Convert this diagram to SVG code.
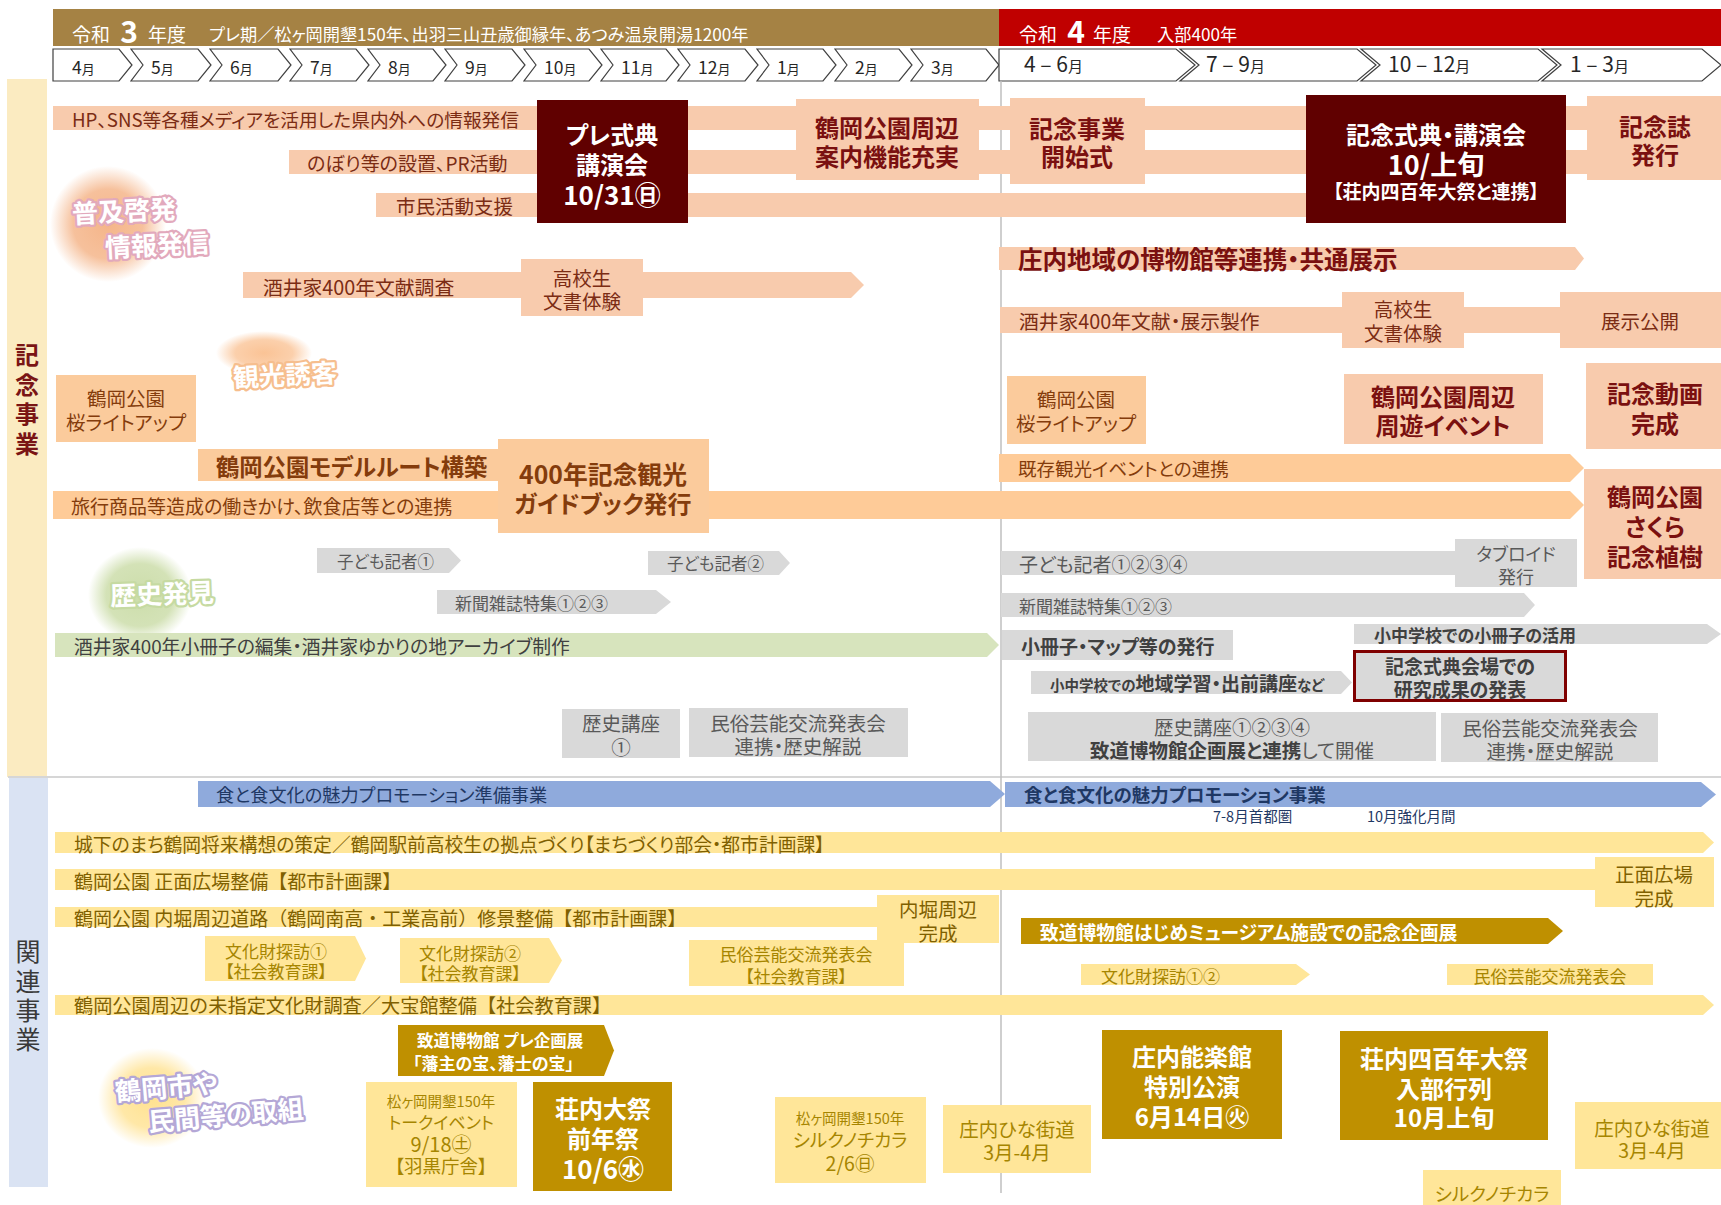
<svg xmlns="http://www.w3.org/2000/svg" width="1721" height="1205" viewBox="0 0 1721 1205">
<defs>
<style>
text{font-family:"Noto Sans CJK JP","Noto Sans",sans-serif;font-feature-settings:"palt";dominant-baseline:central}
.b{font-weight:bold}.m{text-anchor:middle}.np{font-feature-settings:normal}
.sal{fill:#F8CBAD}.pch{fill:#FBCB9C}.pbar{fill:#FECB98}.mar{fill:#600000}.gry{fill:#D9D9D9}.grn{fill:#D7E4BD}.blu{fill:#8FAADC}.yel{fill:#FFE699}.gld{fill:#BF9000}
.chev{fill:#fff;stroke:#404040;stroke-width:1.2}
.mo{dominant-baseline:auto;fill:#262626}
.n{font-size:17.5px}.n4{font-size:21px}.u{font-size:13px}
.hd{fill:#fff}
.tr{fill:#7B2C14}
.tk{fill:#7A1010;font-weight:bold}
.tw{fill:#fff;font-weight:bold}
.to{fill:#843C0C}
.tg{fill:#595959}
.td{fill:#404040;font-weight:bold}
.ty{fill:#7F6000}
.tz{fill:#A68500}
.tn{fill:#1F3864}
.bl{font-size:26px;font-weight:bold;fill:#fff;stroke-width:4.5px;paint-order:stroke;stroke-linejoin:round}
</style>
<radialGradient id="gS"><stop offset="0" stop-color="#F4B183" stop-opacity="0.95"/><stop offset="0.6" stop-color="#F4B183" stop-opacity="0.8"/><stop offset="1" stop-color="#F4B183" stop-opacity="0"/></radialGradient>
<radialGradient id="gO"><stop offset="0" stop-color="#FAC090" stop-opacity="0.95"/><stop offset="0.6" stop-color="#FAC090" stop-opacity="0.75"/><stop offset="1" stop-color="#FAC090" stop-opacity="0"/></radialGradient>
<radialGradient id="gG"><stop offset="0" stop-color="#CCDDAA" stop-opacity="1"/><stop offset="0.65" stop-color="#CCDDAA" stop-opacity="0.85"/><stop offset="1" stop-color="#CCDDAA" stop-opacity="0"/></radialGradient>
<radialGradient id="gY"><stop offset="0" stop-color="#FFE08A" stop-opacity="0.95"/><stop offset="0.6" stop-color="#FFE08A" stop-opacity="0.75"/><stop offset="1" stop-color="#FFE08A" stop-opacity="0"/></radialGradient>
</defs>
<rect width="1721" height="1205" fill="#fff"/>

<g id="header">
<rect x="53" y="9" width="947" height="37" fill="#A58244"/>
<rect x="999" y="9" width="722" height="37" fill="#C00000"/>
<text class="hd" x="72" y="33" font-size="19">令和</text>
<text class="hd b m" x="129" y="30" font-size="30">3</text>
<text class="hd" x="148" y="33" font-size="19">年度</text>
<text class="hd" x="209" y="33" font-size="17.2">プレ期／松ヶ岡開墾150年、出羽三山丑歳御縁年、あつみ温泉開湯1200年</text>
<text class="hd" x="1019" y="33" font-size="19">令和</text>
<text class="hd b m" x="1076" y="30" font-size="30">4</text>
<text class="hd" x="1093" y="33" font-size="19">年度</text>
<text class="hd" x="1157" y="33" font-size="17.2">入部400年</text>
</g>

<g id="months">
<polygon class="chev" points="53,49 119,49 132,65 119,81 53,81"/>
<polygon class="chev" points="131,49 198,49 211,65 198,81 131,81 143,65"/>
<polygon class="chev" points="210,49 278,49 291,65 278,81 210,81 222,65"/>
<polygon class="chev" points="290,49 356,49 369,65 356,81 290,81 302,65"/>
<polygon class="chev" points="368,49 433,49 446,65 433,81 368,81 380,65"/>
<polygon class="chev" points="445,49 512,49 525,65 512,81 445,81 457,65"/>
<polygon class="chev" points="524,49 589,49 602,65 589,81 524,81 536,65"/>
<polygon class="chev" points="601,49 666,49 679,65 666,81 601,81 613,65"/>
<polygon class="chev" points="678,49 745,49 758,65 745,81 678,81 690,65"/>
<polygon class="chev" points="757,49 823,49 836,65 823,81 757,81 769,65"/>
<polygon class="chev" points="835,49 899,49 912,65 899,81 835,81 847,65"/>
<polygon class="chev" points="911,49 986,49 999,65 986,81 911,81 923,65"/>
<polygon class="chev" points="999,49 1176,49 1195,65 1176,81 999,81"/>
<polygon class="chev" points="1180,49 1357,49 1376,65 1357,81 1180,81 1199,65"/>
<polygon class="chev" points="1361,49 1538,49 1557,65 1538,81 1361,81 1380,65"/>
<polygon class="chev" points="1542,49 1702,49 1721,65 1702,81 1542,81 1561,65"/>
<text class="mo" x="72" y="74"><tspan class="n">4</tspan><tspan class="u">月</tspan></text>
<text class="mo" x="151" y="74"><tspan class="n">5</tspan><tspan class="u">月</tspan></text>
<text class="mo" x="230" y="74"><tspan class="n">6</tspan><tspan class="u">月</tspan></text>
<text class="mo" x="310" y="74"><tspan class="n">7</tspan><tspan class="u">月</tspan></text>
<text class="mo" x="388" y="74"><tspan class="n">8</tspan><tspan class="u">月</tspan></text>
<text class="mo" x="465" y="74"><tspan class="n">9</tspan><tspan class="u">月</tspan></text>
<text class="mo" x="544" y="74"><tspan class="n">10</tspan><tspan class="u">月</tspan></text>
<text class="mo" x="621" y="74"><tspan class="n">11</tspan><tspan class="u">月</tspan></text>
<text class="mo" x="698" y="74"><tspan class="n">12</tspan><tspan class="u">月</tspan></text>
<text class="mo" x="777" y="74"><tspan class="n">1</tspan><tspan class="u">月</tspan></text>
<text class="mo" x="855" y="74"><tspan class="n">2</tspan><tspan class="u">月</tspan></text>
<text class="mo" x="931" y="74"><tspan class="n">3</tspan><tspan class="u">月</tspan></text>
<text class="mo" x="1024" y="72"><tspan class="n4">4 – 6</tspan><tspan font-size="15">月</tspan></text>
<text class="mo" x="1206" y="72"><tspan class="n4">7 – 9</tspan><tspan font-size="15">月</tspan></text>
<text class="mo" x="1388" y="72"><tspan class="n4">10 – 12</tspan><tspan font-size="15">月</tspan></text>
<text class="mo" x="1570" y="72"><tspan class="n4">1 – 3</tspan><tspan font-size="15">月</tspan></text>
</g>

<g id="categories">
<rect x="7" y="79" width="40" height="698" fill="#FBEBC1"/>
<rect x="9" y="778" width="39" height="409" fill="#DAE3F3"/>
<text class="b m" x="27" y="353" font-size="24" fill="#7A1515">記</text>
<text class="b m" x="27" y="383" font-size="24" fill="#7A1515">念</text>
<text class="b m" x="27" y="412" font-size="24" fill="#7A1515">事</text>
<text class="b m" x="27" y="442" font-size="24" fill="#7A1515">業</text>
<text class="m" x="28" y="950" font-size="25" fill="#3A3A3A">関</text>
<text class="m" x="28" y="980" font-size="25" fill="#3A3A3A">連</text>
<text class="m" x="28" y="1009" font-size="25" fill="#3A3A3A">事</text>
<text class="m" x="28" y="1038" font-size="25" fill="#3A3A3A">業</text>
</g>

<g id="guides">
<line x1="8" y1="777" x2="1721" y2="777" stroke="#D6D6D6" stroke-width="2"/>
<line x1="1001" y1="81" x2="1001" y2="1193" stroke="#BFBFBF" stroke-width="1.5"/>
</g>

<g id="blobs">
<ellipse cx="108" cy="224" rx="58" ry="58" fill="url(#gS)"/>
<ellipse cx="264" cy="353" rx="48" ry="22" fill="url(#gO)"/>
<ellipse cx="140" cy="595" rx="52" ry="48" fill="url(#gG)"/>
<ellipse cx="152" cy="1098" rx="54" ry="50" fill="url(#gY)"/>
<text class="bl" x="72" y="212" style="stroke:#E2A9BC" transform="rotate(-3 72 212)">普及啓発</text>
<text class="bl" x="105" y="246" style="stroke:#E2A9BC" transform="rotate(-3 105 246)">情報発信</text>
<text class="bl" x="233" y="376" style="stroke:#F6BE8E" transform="rotate(-3 233 376)">観光誘客</text>
<text class="bl" x="110" y="594" style="stroke:#C6DAA2" transform="rotate(-2 110 594)">歴史発見</text>
<text class="bl" x="115" y="1090" style="stroke:#B4A7D6" transform="rotate(-5 115 1090)">鶴岡市や</text>
<text class="bl" x="148" y="1120" style="stroke:#B4A7D6" transform="rotate(-5 148 1120)">民間等の取組</text>
</g>

<g id="promo-rows">
<g id="n-hp"><rect class="sal" x="53" y="106" width="1668" height="24"/><text class="tr" x="72" y="118" font-size="18.7">HP、SNS等各種メディアを活用した県内外への情報発信</text></g>
<g id="n-nobori"><rect class="sal" x="289" y="150" width="1432" height="24"/><text class="tr" x="307" y="162" font-size="19">のぼり等の設置、PR活動</text></g>
<g id="n-shimin"><rect class="sal" x="376" y="193" width="1190" height="24"/><text class="tr" x="396" y="205" font-size="19.5">市民活動支援</text></g>
</g>

<g id="n-pre"><rect class="mar" x="537" y="100" width="151" height="123"/>
<text class="tw m" x="612" y="133" font-size="24">プレ式典</text><text class="tw m" x="612" y="163" font-size="24">講演会</text><text class="tw m" x="612" y="193" font-size="26">10/31㊐</text></g>
<g id="n-annai"><rect class="sal" x="796" y="99" width="183" height="81"/>
<text class="tk m" x="887" y="126" font-size="24">鶴岡公園周辺</text><text class="tk m" x="887" y="155" font-size="24">案内機能充実</text></g>
<g id="n-kaishi"><rect class="sal" x="1010" y="98" width="135" height="86"/>
<text class="tk m" x="1077" y="127" font-size="24">記念事業</text><text class="tk m" x="1077" y="155" font-size="24">開始式</text></g>
<g id="n-shikiten"><rect class="mar" x="1306" y="95" width="260" height="128"/>
<text class="tw m" x="1436" y="133" font-size="24">記念式典・講演会</text><text class="tw m" x="1436" y="163" font-size="27">10/上旬</text><text class="tw m" x="1436" y="190" font-size="19">【荘内四百年大祭と連携】</text></g>
<g id="n-kinenshi"><rect class="sal" x="1587" y="96" width="134" height="84"/>
<text class="tk m" x="1655" y="125" font-size="24">記念誌</text><text class="tk m" x="1655" y="153" font-size="24">発行</text></g>

<g id="n-shonai"><polygon class="sal" points="999,247 1575,247 1584,258.5 1575,270 999,270"/><text class="tk" x="1018" y="258" font-size="24.5">庄内地域の博物館等連携・共通展示</text></g>
<g id="n-bunken"><polygon class="sal" points="243,272 851,272 864,285 851,298 243,298"/><text class="tr" x="263" y="286" font-size="19.8">酒井家400年文献調査</text></g>
<g id="n-koko1"><rect class="sal" x="521" y="259" width="122" height="57"/><text class="tr m" x="582" y="277" font-size="19.5">高校生</text><text class="tr m" x="582" y="300" font-size="19.5">文書体験</text></g>
<g id="n-tenji"><rect class="sal" x="1000" y="307" width="600" height="26"/><text class="tr" x="1019" y="320" font-size="19.8">酒井家400年文献・展示製作</text></g>
<g id="n-koko2"><rect class="sal" x="1342" y="292" width="122" height="56"/><text class="tr m" x="1403" y="308" font-size="19.5">高校生</text><text class="tr m" x="1403" y="332" font-size="19.5">文書体験</text></g>
<g id="n-tenjikoukai"><rect class="sal" x="1560" y="292" width="161" height="56"/><text class="tr m" x="1640" y="320" font-size="19.5">展示公開</text></g>

<g id="n-sakura1"><rect class="pch" x="56" y="375" width="140" height="67"/><text class="to m" x="126" y="397" font-size="19.5">鶴岡公園</text><text class="to m" x="126" y="421" font-size="19.5">桜ライトアップ</text></g>
<g id="n-model"><rect class="pch" x="198" y="449" width="310" height="32"/><text class="to b" x="216" y="466" font-size="23.3">鶴岡公園モデルルート構築</text></g>
<g id="n-ryoko"><polygon class="pbar" points="53,491 1570,491 1584,505 1570,519 53,519"/><text class="to" x="71" y="505" font-size="19">旅行商品等造成の働きかけ、飲食店等との連携</text></g>
<g id="n-guide"><rect class="pch" x="498" y="439" width="211" height="94"/><text class="to b m" x="603" y="473" font-size="24.8">400年記念観光</text><text class="to b m" x="603" y="502" font-size="24">ガイドブック発行</text></g>
<g id="n-sakura2"><rect class="pch" x="1007" y="376" width="139" height="68"/><text class="to m" x="1076" y="398" font-size="19.5">鶴岡公園</text><text class="to m" x="1076" y="422" font-size="19.5">桜ライトアップ</text></g>
<g id="n-kizon"><polygon class="pbar" points="999,454 1570,454 1584,468 1570,482 999,482"/><text class="to" x="1018" y="468" font-size="18.5">既存観光イベントとの連携</text></g>
<g id="n-shuyu"><rect class="sal" x="1344" y="374" width="199" height="70"/><text class="tk m" x="1443" y="395" font-size="24">鶴岡公園周辺</text><text class="tk m" x="1443" y="424" font-size="24">周遊イベント</text></g>
<g id="n-douga"><rect class="sal" x="1586" y="363" width="135" height="86"/><text class="tk m" x="1655" y="392" font-size="24">記念動画</text><text class="tk m" x="1655" y="422" font-size="24">完成</text></g>
<g id="n-shokuju"><rect class="sal" x="1584" y="469" width="137" height="110"/><text class="tk m" x="1655" y="495" font-size="24">鶴岡公園</text><text class="tk m" x="1655" y="525" font-size="24">さくら</text><text class="tk m" x="1655" y="555" font-size="24">記念植樹</text></g>

<g id="n-kodomo1"><polygon class="gry" points="317,548 449,548 461,560.5 449,573 317,573"/><text class="tg" x="337" y="561" font-size="16.5">子ども記者①</text></g>
<g id="n-kodomo2"><polygon class="gry" points="648,551 779,551 790,563 779,575 648,575"/><text class="tg" x="667" y="563" font-size="16.5">子ども記者②</text></g>
<g id="n-shinbun1"><polygon class="gry" points="437,590 656,590 671,602 656,614 437,614"/><text class="tg" x="455" y="602" font-size="17">新聞雑誌特集①②③</text></g>
<g id="n-kodomo3"><rect class="gry" x="1001" y="551" width="460" height="24"/><text class="tg" x="1019" y="563" font-size="19">子ども記者①②③④</text></g>
<g id="n-tabloid"><rect class="gry" x="1455" y="539" width="122" height="48"/><text class="tg m" x="1516" y="553" font-size="18">タブロイド</text><text class="tg m" x="1516" y="576" font-size="18">発行</text></g>
<g id="n-shinbun2"><polygon class="gry" points="1001,593 1524,593 1535,605 1524,617 1001,617"/><text class="tg" x="1019" y="605" font-size="17">新聞雑誌特集①②③</text></g>
<g id="n-sasshi"><polygon class="grn" points="55,633 987,633 999,645 987,657 55,657"/><text x="74" y="645" font-size="18.8" fill="#404040">酒井家400年小冊子の編集・酒井家ゆかりの地アーカイブ制作</text></g>
<g id="n-map"><rect class="gry" x="1002" y="630" width="231" height="30"/><text class="td" x="1021" y="645" font-size="19">小冊子・マップ等の発行</text></g>
<g id="n-katsuyo"><polygon class="gry" points="1354,624 1707,624 1721,634 1707,644 1354,644"/><text class="td" x="1374" y="634" font-size="17">小中学校での小冊子の活用</text></g>
<g id="n-demae"><polygon class="gry" points="1031,671 1341,671 1352,682.5 1341,694 1031,694"/><text class="td" x="1050" y="691" style="dominant-baseline:auto"><tspan font-size="14.5">小中学校での</tspan><tspan font-size="19">地域学習・出前講座</tspan><tspan font-size="14.5">など</tspan></text></g>
<g id="n-happyo"><rect x="1354.5" y="651.5" width="211" height="49" fill="#D9D9D9" stroke="#7F0000" stroke-width="3"/><text class="td m" x="1460" y="665" font-size="19">記念式典会場での</text><text class="td m" x="1460" y="688" font-size="19">研究成果の発表</text></g>
<g id="n-koza1"><rect class="gry" x="562" y="709" width="118" height="49"/><text class="tg m" x="621" y="722" font-size="19.5">歴史講座</text><text class="tg m" x="621" y="746" font-size="19.5">①</text></g>
<g id="n-minzoku1"><rect class="gry" x="689" y="708" width="219" height="49"/><text class="tg m" x="798" y="722" font-size="19.5">民俗芸能交流発表会</text><text class="tg m" x="798" y="745" font-size="19.5">連携・歴史解説</text></g>
<g id="n-koza2"><rect class="gry" x="1028" y="712" width="408" height="49"/><text class="tg m" x="1232" y="726" font-size="19.5">歴史講座①②③④</text><text class="tg m" x="1232" y="749" font-size="19.5"><tspan class="b" fill="#404040">致道博物館企画展と連携</tspan>して開催</text></g>
<g id="n-minzoku2"><rect class="gry" x="1441" y="713" width="217" height="49"/><text class="tg m" x="1550" y="727" font-size="19.5">民俗芸能交流発表会</text><text class="tg m" x="1550" y="750" font-size="19.5">連携・歴史解説</text></g>

<g id="n-shoku1"><polygon class="blu" points="198,781 990,781 1005,794 990,807 198,807"/><text class="tn" x="216" y="794" font-size="18.2">食と食文化の魅力プロモーション準備事業</text></g>
<g id="n-shoku2"><polygon class="blu" points="1005,782 1701,782 1716,794.5 1701,807 1005,807"/><text class="tn b" x="1024" y="794" font-size="18.5">食と食文化の魅力プロモーション事業</text>
<text class="tn" x="1213" y="815" font-size="14.5">7-8月首都圏</text><text class="tn" x="1367" y="815" font-size="14.5">10月強化月間</text></g>
<g id="n-jokamachi"><polygon class="yel" points="55,832 1703,832 1714,842.5 1703,853 55,853"/><text class="ty" x="74" y="843" font-size="18.8">城下のまち鶴岡将来構想の策定／鶴岡駅前高校生の拠点づくり【まちづくり部会・都市計画課】</text></g>
<g id="n-shomen"><rect class="yel" x="55" y="869" width="1545" height="21"/><text class="ty np" x="74" y="880" font-size="19">鶴岡公園 正面広場整備【都市計画課】</text></g>
<g id="n-shomen-kansei"><rect class="yel" x="1595" y="857" width="119" height="50"/><text class="ty m" x="1654" y="873" font-size="19.5">正面広場</text><text class="ty m" x="1654" y="897" font-size="19.5">完成</text></g>
<g id="n-uchibori"><rect class="yel" x="55" y="907" width="830" height="20"/><text class="ty np" x="74" y="917" font-size="19">鶴岡公園 内堀周辺道路（鶴岡南高・工業高前）修景整備【都市計画課】</text></g>
<g id="n-uchibori-kansei"><rect class="yel" x="877" y="895" width="122" height="48"/><text class="ty m" x="938" y="908" font-size="19.5">内堀周辺</text><text class="ty m" x="938" y="932" font-size="19.5">完成</text></g>
<g id="n-tanbo1"><polygon class="yel" points="205,936 355,936 366,958.5 355,981 205,981"/><text class="tz m" x="276" y="950" font-size="17">文化財探訪①</text><text class="tz m" x="276" y="970" font-size="17">【社会教育課】</text></g>
<g id="n-tanbo2"><polygon class="yel" points="400,938 549,938 562,960.5 549,983 400,983"/><text class="tz m" x="470" y="952" font-size="17">文化財探訪②</text><text class="tz m" x="470" y="972" font-size="17">【社会教育課】</text></g>
<g id="n-minzoku3"><rect class="yel" x="689" y="940" width="215" height="46"/><text class="tz m" x="796" y="953" font-size="17">民俗芸能交流発表会</text><text class="tz m" x="796" y="975" font-size="17">【社会教育課】</text></g>
<g id="n-kikaku"><polygon class="gld" points="1021,918 1548,918 1563,931 1548,944 1021,944"/><text class="tw" x="1040" y="931" font-size="18.8">致道博物館はじめミュージアム施設での記念企画展</text></g>
<g id="n-tanbo3"><polygon class="yel" points="1081,964 1296,964 1310,974.5 1296,985 1081,985"/><text class="tz" x="1101" y="975" font-size="17">文化財探訪①②</text></g>
<g id="n-minzoku4"><rect class="yel" x="1447" y="964" width="206" height="21"/><text class="tz m" x="1550" y="975" font-size="17">民俗芸能交流発表会</text></g>
<g id="n-mishitei"><polygon class="yel" points="55,995 1703,995 1714,1005 1703,1015 55,1015"/><text class="ty np" x="74" y="1005" font-size="19.2">鶴岡公園周辺の未指定文化財調査／大宝館整備【社会教育課】</text></g>
<g id="n-prekikaku"><polygon class="gld" points="398,1025 604,1025 614,1050.5 604,1076 398,1076"/><text class="tw" x="417" y="1040" font-size="16.5">致道博物館 プレ企画展</text><text class="tw" x="413" y="1062" font-size="17">「藩主の宝、藩士の宝」</text></g>
<g id="n-talk"><rect class="yel" x="366" y="1082" width="151" height="105"/><text class="tz m" x="441" y="1100" font-size="14.5">松ヶ岡開墾150年</text><text class="tz m" x="441" y="1121" font-size="17">トークイベント</text><text class="tz m" x="441" y="1143" font-size="20">9/18㊏</text><text class="tz m" x="441" y="1165" font-size="18.5">【羽黒庁舎】</text></g>
<g id="n-zennen"><rect class="gld" x="533" y="1082" width="139" height="109"/><text class="tw m" x="603" y="1107" font-size="24">荘内大祭</text><text class="tw m" x="603" y="1137" font-size="24">前年祭</text><text class="tw m" x="603" y="1167" font-size="26">10/6㊌</text></g>
<g id="n-silk1"><rect class="yel" x="775" y="1097" width="151" height="86"/><text class="tz m" x="850" y="1117" font-size="14.5">松ヶ岡開墾150年</text><text class="tz m" x="850" y="1139" font-size="18.5">シルクノチカラ</text><text class="tz m" x="850" y="1162" font-size="19.5">2/6㊐</text></g>
<g id="n-hina1"><rect class="yel" x="943" y="1105" width="148" height="68"/><text class="tz m" x="1017" y="1128" font-size="19.5">庄内ひな街道</text><text class="tz m" x="1017" y="1151" font-size="19.5">3月-4月</text></g>
<g id="n-nogaku"><rect class="gld" x="1102" y="1030" width="180" height="109"/><text class="tw m" x="1192" y="1055" font-size="24">庄内能楽館</text><text class="tw m" x="1192" y="1085" font-size="24">特別公演</text><text class="tw m" x="1192" y="1115" font-size="24">6月14日㊋</text></g>
<g id="n-nyubu"><rect class="gld" x="1340" y="1031" width="208" height="109"/><text class="tw m" x="1444" y="1057" font-size="24">荘内四百年大祭</text><text class="tw m" x="1444" y="1087" font-size="24">入部行列</text><text class="tw m" x="1444" y="1116" font-size="24">10月上旬</text></g>
<g id="n-hina2"><rect class="yel" x="1575" y="1102" width="146" height="67"/><text class="tz m" x="1652" y="1127" font-size="19.5">庄内ひな街道</text><text class="tz m" x="1652" y="1149" font-size="19.5">3月-4月</text></g>
<g id="n-silk2"><rect class="yel" x="1423" y="1170" width="138" height="35"/><text class="tz m" x="1492" y="1193" font-size="18.5">シルクノチカラ</text></g>
<g id="connectors"></g>
</svg>
